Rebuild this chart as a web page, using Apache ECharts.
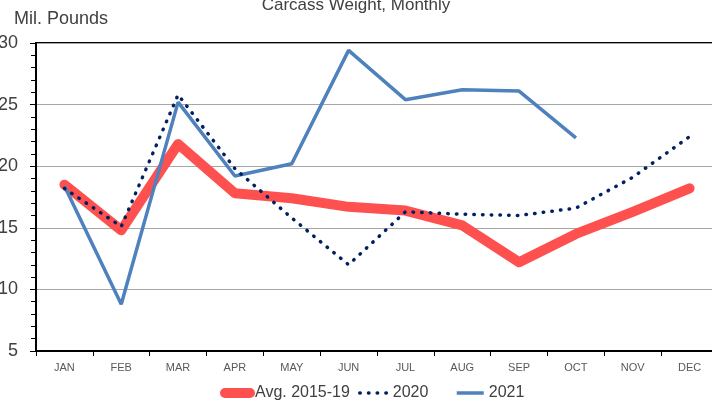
<!DOCTYPE html>
<html><head><meta charset="utf-8">
<script src="https://cdn.jsdelivr.net/npm/echarts@6/dist/echarts.min.js"></script>
<style>html,body{margin:0;padding:0;background:#fff}#c{width:712px;height:402px}</style>
</head><body><div id="c"></div>
<script>
const months = ['JAN','FEB','MAR','APR','MAY','JUN','JUL','AUG','SEP','OCT','NOV','DEC'];
const avg1519 = [18.5, 14.8, 21.8, 17.8, 17.4, 16.7, 16.4, 15.2, 12.2, 14.5, 16.3, 18.2];
const y2020 = [18.2, 15.1, 25.8, 19.8, 15.8, 12.0, 16.3, 16.1, 16.0, 16.6, 19.1, 22.4];
const y2021 = [18.4, 8.8, 25.2, 19.2, 20.2, 29.4, 25.4, 26.2, 26.1, 22.3, null, null];
const yTicks = [5, 10, 15, 20, 25, 30];
const F = '"Liberation Sans", Arial, sans-serif';
const legendText = { fontFamily: F, fontSize: 16, color: '#404040' };
const legendBase = { top: 385, padding: 0, itemHeight: 14, itemStyle: { opacity: 0 }, textStyle: legendText };
const chart = echarts.init(document.getElementById('c'));
chart.setOption({
  animation: false,
  title: { text: 'Carcass Weight, Monthly', left: 'center', top: -8,
    textStyle: { fontFamily: F, fontWeight: 'normal', fontSize: 17, color: '#404040' } },
  graphic: [{ type: 'text', left: 14, top: 10,
    style: { text: 'Mil. Pounds', font: '18px ' + F, fill: '#404040' } }],
  legend: [
    Object.assign({}, legendBase, { left: 220, itemWidth: 25,
      data: [{ name: 'Avg. 2015-19', lineStyle: { width: 10 } }] }),
    Object.assign({}, legendBase, { left: 358, itemWidth: 28,
      data: [{ name: '2020', lineStyle: { width: 3.5 } }] }),
    Object.assign({}, legendBase, { left: 455, itemWidth: 27,
      data: [{ name: '2021', lineStyle: { width: 3.5 } }] })
  ],
  grid: { left: 36, top: 43, width: 682, height: 308, outerBoundsMode: 'none',
    show: true, borderColor: '#000', borderWidth: 2 },
  xAxis: { type: 'category', data: months, boundaryGap: true,
    axisLine: { lineStyle: { color: '#000', width: 2 } },
    axisTick: { show: true, length: 5, lineStyle: { color: '#000' } },
    axisLabel: { interval: 0, fontFamily: F, fontSize: 11, color: '#595959', margin: 11 } },
  yAxis: { type: 'value', min: yTicks[0], max: yTicks[yTicks.length - 1], interval: 5,
    axisLine: { show: true, lineStyle: { color: '#000', width: 2 } },
    axisTick: { show: true, length: 6, lineStyle: { color: '#000' } },
    minorTick: { show: true, splitNumber: 5, length: 5, lineStyle: { color: '#000' } },
    splitLine: { lineStyle: { color: '#a6a6a6', width: 1.2 } },
    axisLabel: { fontFamily: F, fontSize: 18, color: '#404040', margin: 18 } },
  series: [
    { name: 'Avg. 2015-19', type: 'line', data: avg1519, symbol: 'none', z: 1,
      itemStyle: { color: '#FF5050' },
      lineStyle: { color: '#FF5050', width: 10, cap: 'round', join: 'round' } },
    { name: '2020', type: 'line', data: y2020, symbol: 'none', z: 3,
      itemStyle: { color: '#002060' },
      lineStyle: { color: '#002060', width: 3.5, type: [0.5, 8.2], cap: 'round' } },
    { name: '2021', type: 'line', data: y2021, symbol: 'none', z: 2,
      itemStyle: { color: '#4F81BD' },
      lineStyle: { color: '#4F81BD', width: 3.5 } }
  ]
});
</script></body></html>
